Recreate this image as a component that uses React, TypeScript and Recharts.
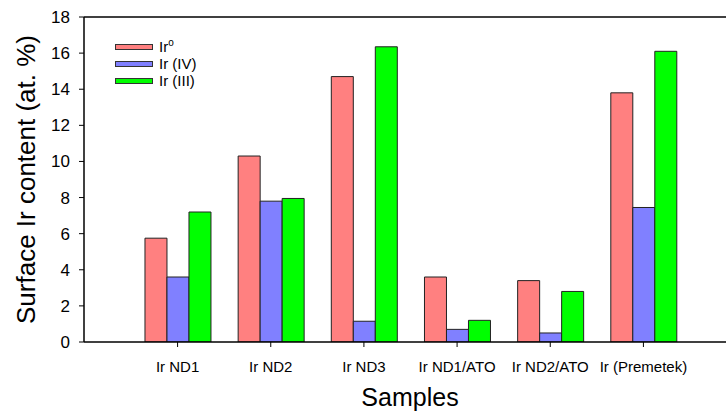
import { BarChart, Bar, XAxis, YAxis, Legend, ReferenceLine } from 'recharts';

const samples = ['Ir ND1', 'Ir ND2', 'Ir ND3', 'Ir ND1/ATO', 'Ir ND2/ATO', 'Ir (Premetek)'];
const irMetal = [5.75, 10.3, 14.7, 3.6, 3.4, 13.8];
const irIV = [3.6, 7.8, 1.15, 0.7, 0.5, 7.45];
const irIII = [7.2, 7.95, 16.35, 1.2, 2.8, 16.1];
const yTicks = [0, 2, 4, 6, 8, 10, 12, 14, 16, 18];

const series = [
  { key: 'ir0', name: 'Ir°', color: '#FF8080' },
  { key: 'ir4', name: 'Ir (IV)', color: '#8080FF' },
  { key: 'ir3', name: 'Ir (III)', color: '#00FF00' },
];

const data = samples.map((name, i) => ({
  name,
  ir0: irMetal[i],
  ir4: irIV[i],
  ir3: irIII[i],
}));

const font = '"Liberation Sans", Arial, sans-serif';

function LegendBox() {
  return (
    <div style={{ fontFamily: font, fontSize: 15, color: '#000' }}>
      {series.map((s) => (
        <div key={s.key} style={{ display: 'flex', alignItems: 'center', height: 17 }}>
          <div style={{ width: 36, height: 4, background: s.color, border: '1px solid #333' }} />
          <span style={{ marginLeft: 6, lineHeight: '17px' }}>
            {s.key === 'ir0' ? (
              <>
                Ir<sup style={{ fontSize: 10, verticalAlign: 'top', lineHeight: '10px' }}>o</sup>
              </>
            ) : (
              s.name
            )}
          </span>
        </div>
      ))}
    </div>
  );
}

function YTitle(props: any) {
  const vb = props.viewBox || { x: 0, y: 17, width: 84, height: 325 };
  const x = vb.x + 35;
  const y = vb.y + vb.height / 2;
  return (
    <text
      x={x}
      y={y}
      transform={`rotate(-90 ${x} ${y})`}
      textAnchor="middle"
      fontFamily={font}
      fontSize={26}
      fill="#000"
    >
      Surface Ir content (at. %)
    </text>
  );
}

export default function App() {
  return (
    <div style={{ position: 'absolute', left: 0, top: 0, background: '#fff' }}>
      <BarChart
        width={726}
        height={412}
        data={data}
        margin={{ top: 17, right: 0, left: 0, bottom: 0 }}
        barCategoryGap="15%"
        barGap={0}
      >
        <XAxis
          dataKey="name"
          height={70}
          padding={{ left: 47, right: 36 }}
          axisLine={{ stroke: '#000', strokeWidth: 1.5 }}
          tickLine={{ stroke: '#000' }}
          tickSize={5}
          tickMargin={14}
          tick={{ fill: '#000', fontSize: 15, fontFamily: font }}
          interval={0}
          label={{
            value: 'Samples',
            position: 'insideBottom',
            offset: 6,
            dx: 5,
            fill: '#000',
            fontSize: 25,
            fontFamily: font,
          }}
        />
        <YAxis
          width={84}
          domain={[0, 18]}
          ticks={yTicks}
          allowDataOverflow
          axisLine={{ stroke: '#000', strokeWidth: 1.5 }}
          tickLine={{ stroke: '#000' }}
          tickSize={5}
          tickMargin={9}
          tick={{ fill: '#000', fontSize: 17, fontFamily: font }}
          label={{ content: YTitle }}
        />
        <ReferenceLine y={18} stroke="#000" strokeWidth={1.5} />
        <Legend
          layout="vertical"
          align="center"
          verticalAlign="middle"
          wrapperStyle={{ left: 115, top: 38, width: 'auto' }}
          content={() => <LegendBox />}
        />
        {series.map((s) => (
          <Bar
            key={s.key}
            dataKey={s.key}
            name={s.name}
            fill={s.color}
            stroke="#222"
            strokeWidth={1}
            isAnimationActive={false}
          />
        ))}
      </BarChart>
    </div>
  );
}
